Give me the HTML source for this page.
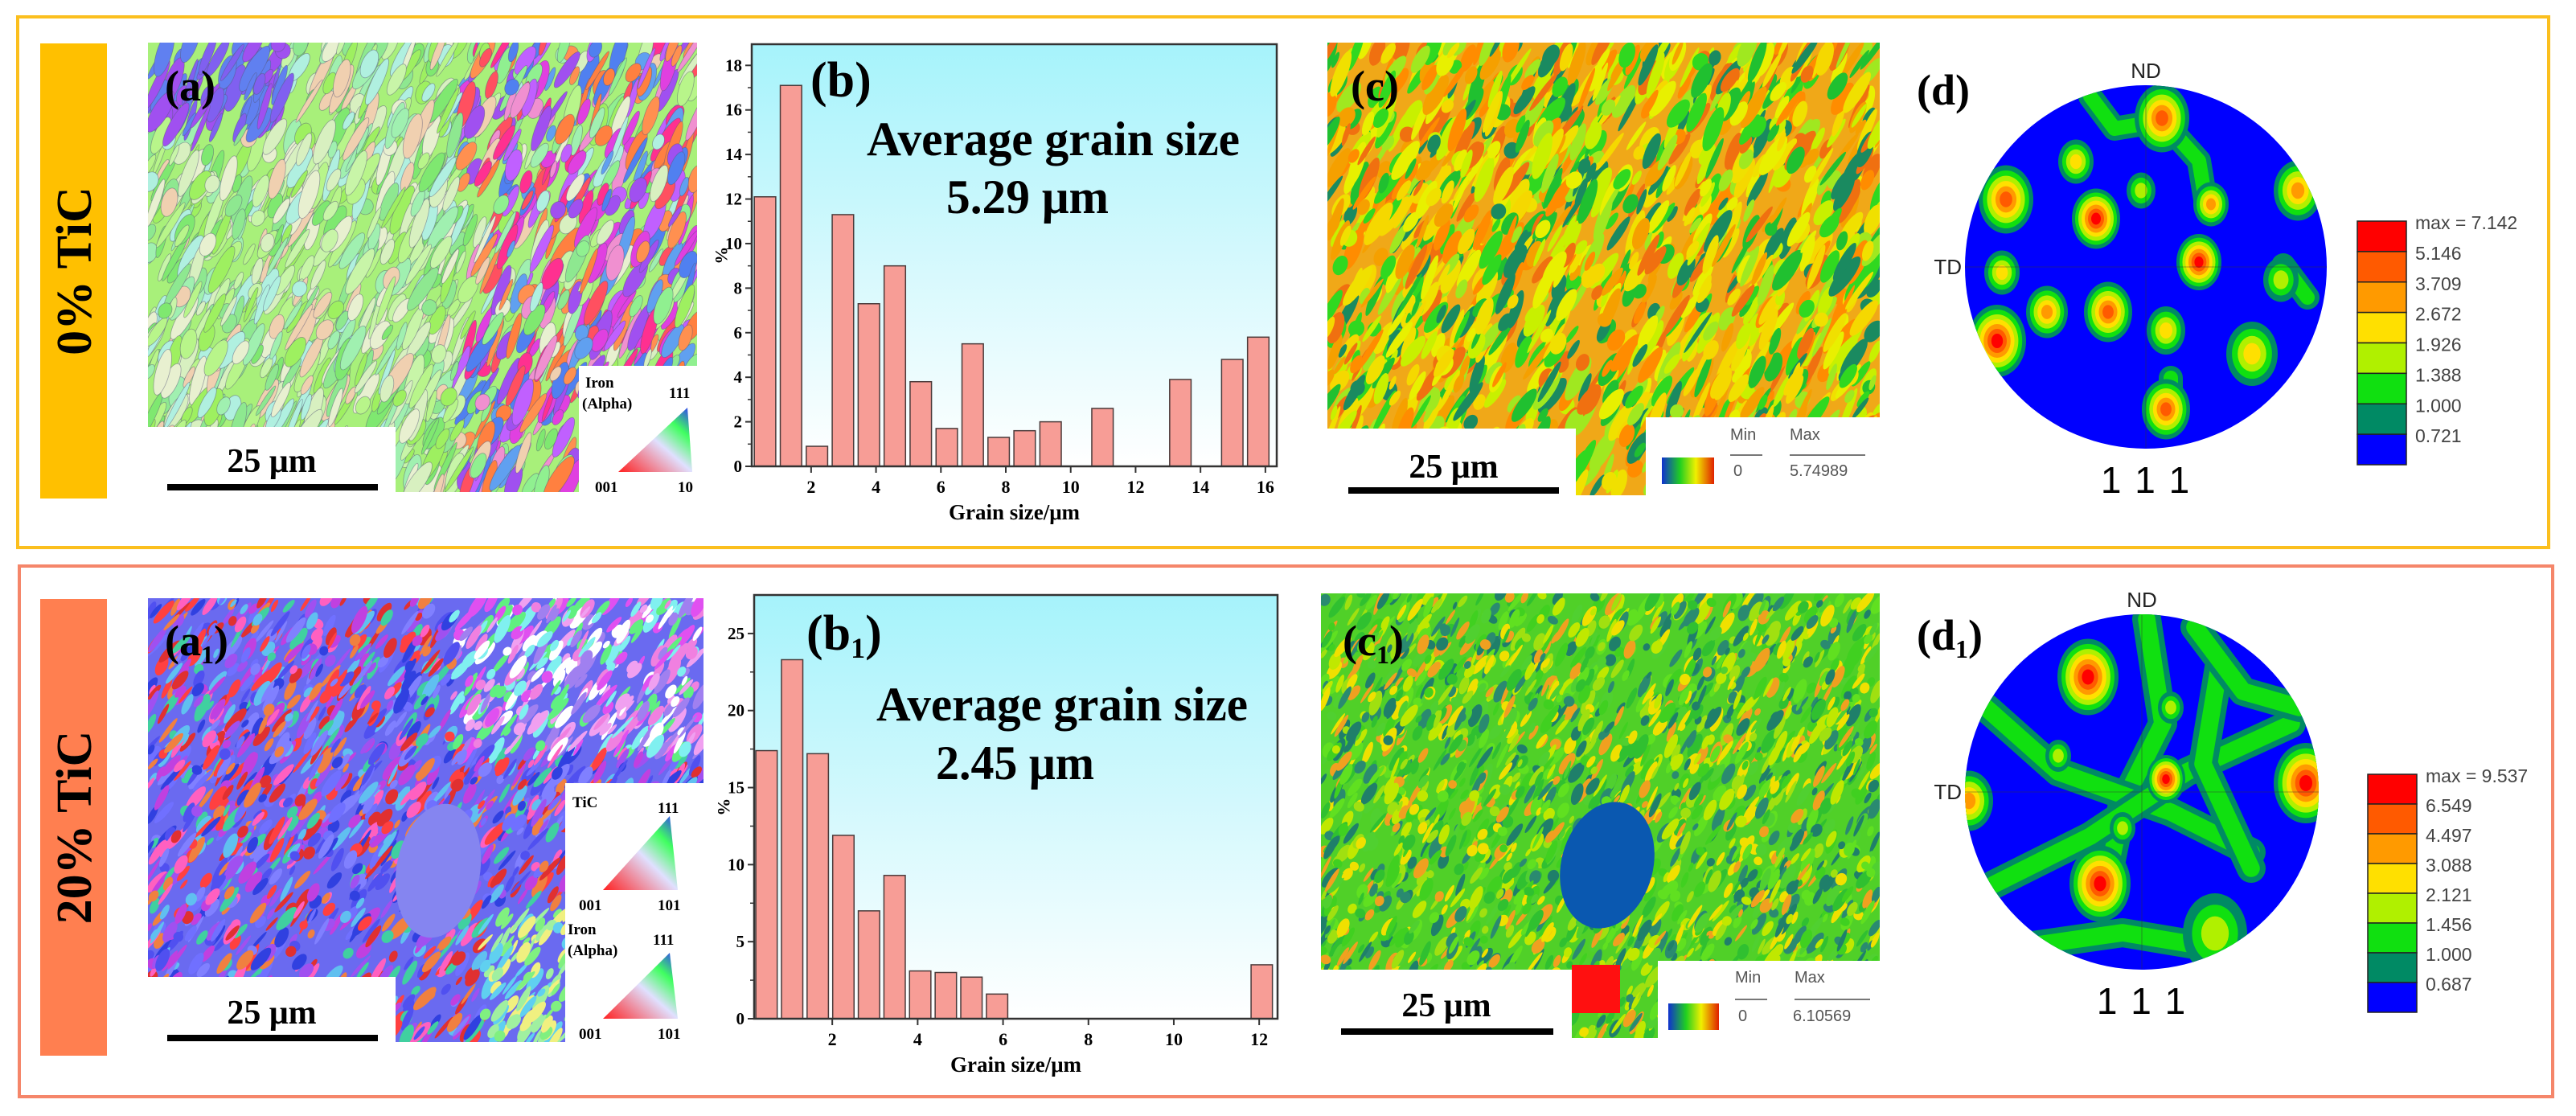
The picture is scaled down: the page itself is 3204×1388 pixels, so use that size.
<!DOCTYPE html>
<html><head><meta charset="utf-8">
<style>
html,body{margin:0;padding:0;background:#fff;}
svg{display:block;}
.serif{font-family:"Liberation Serif",serif;font-weight:bold;}
.sans{font-family:"Liberation Sans",sans-serif;}
</style></head>
<body>
<svg id="fig" width="3204" height="1388" viewBox="0 0 3204 1388" xmlns="http://www.w3.org/2000/svg">
<defs>
  <linearGradient id="cyanbg" x1="0" y1="0" x2="0" y2="1">
    <stop offset="0" stop-color="#a6f3fb"/><stop offset="0.55" stop-color="#d8f9fd"/><stop offset="1" stop-color="#ffffff"/>
  </linearGradient>
  <linearGradient id="kam" x1="0" y1="0" x2="1" y2="0">
    <stop offset="0" stop-color="#1030d0"/><stop offset="0.35" stop-color="#20d020"/><stop offset="0.65" stop-color="#f0f000"/><stop offset="1" stop-color="#e02000"/>
  </linearGradient>
  <linearGradient id="ipf" x1="0" y1="1" x2="1" y2="0">
    <stop offset="0" stop-color="#ff2020"/><stop offset="0.5" stop-color="#e0e0ff"/><stop offset="0.75" stop-color="#40ff60"/><stop offset="1" stop-color="#3030ff"/>
  </linearGradient>
  <clipPath id="clipA"><rect x="184" y="53" width="683" height="559"/></clipPath>
  <clipPath id="clipA1"><rect x="184" y="744" width="691" height="552"/></clipPath>
  <clipPath id="clipC"><rect x="1651" y="53" width="687" height="563"/></clipPath>
  <clipPath id="clipC1"><rect x="1643" y="738" width="695" height="553"/></clipPath>
  <clipPath id="clipD"><ellipse cx="2669" cy="332" rx="225" ry="226"/></clipPath>
  <clipPath id="clipD1"><ellipse cx="2664" cy="985" rx="220" ry="221"/></clipPath>
</defs>

<rect x="22" y="21" width="3148" height="660" fill="none" stroke="#fbbf1e" stroke-width="4"/>
<rect x="24" y="704" width="3151" height="660" fill="none" stroke="#f5866a" stroke-width="4"/>
<rect x="50" y="54" width="83" height="566" fill="#ffc000"/>
<text class="serif" font-size="62" text-anchor="middle" transform="translate(113,337) rotate(-90)">0% TiC</text>
<rect x="50" y="745" width="83" height="568" fill="#ff7f50"/>
<text class="serif" font-size="62" text-anchor="middle" transform="translate(113,1029) rotate(-90)">20% TiC</text>

<g id="mapA" clip-path="url(#clipA)"></g>
<g id="mapA1" clip-path="url(#clipA1)"></g>
<g id="mapC" clip-path="url(#clipC)"></g>
<g id="mapC1" clip-path="url(#clipC1)"></g>

<g>
  <text class="serif" x="205" y="125" font-size="54">(a)</text>
  <rect x="184" y="531" width="308" height="81" fill="#fff"/>
  <text class="serif" x="338" y="587" font-size="42" text-anchor="middle">25 μm</text>
  <rect x="208" y="602" width="262" height="8" fill="#000"/>
  <rect x="720" y="455" width="147" height="157" fill="#fff"/>
  <text class="serif" x="728" y="482" font-size="19">Iron</text>
  <text class="serif" x="724" y="508" font-size="19">(Alpha)</text>
  <text class="serif" x="832" y="495" font-size="19">111</text>
  <polygon points="769,587 861,587 855,507" fill="url(#ipf)"/>
  <text class="serif" x="740" y="612" font-size="19">001</text>
  <text class="serif" x="843" y="612" font-size="19">10</text>
</g>
<g>
  <text class="serif" x="205" y="815" font-size="54">(a<tspan font-size="32" dy="10">1</tspan><tspan dy="-10">)</tspan></text>
  <rect x="184" y="1215" width="308" height="81" fill="#fff"/>
  <text class="serif" x="338" y="1273" font-size="42" text-anchor="middle">25 μm</text>
  <rect x="208" y="1287" width="262" height="8" fill="#000"/>
  <rect x="703" y="974" width="172" height="322" fill="#fff"/>
  <text class="serif" x="712" y="1004" font-size="19">TiC</text>
  <text class="serif" x="818" y="1011" font-size="19">111</text>
  <polygon points="750,1107 843,1107 833,1015" fill="url(#ipf)"/>
  <text class="serif" x="720" y="1132" font-size="19">001</text>
  <text class="serif" x="818" y="1132" font-size="19">101</text>
  <text class="serif" x="706" y="1162" font-size="19">Iron</text>
  <text class="serif" x="706" y="1188" font-size="19">(Alpha)</text>
  <text class="serif" x="812" y="1175" font-size="19">111</text>
  <polygon points="750,1267 843,1267 833,1185" fill="url(#ipf)"/>
  <text class="serif" x="720" y="1292" font-size="19">001</text>
  <text class="serif" x="818" y="1292" font-size="19">101</text>
</g>
<g>
  <text class="serif" x="1680" y="125" font-size="54">(c)</text>
  <rect x="1651" y="533" width="309" height="83" fill="#fff"/>
  <text class="serif" x="1808" y="594" font-size="42" text-anchor="middle">25 μm</text>
  <rect x="1677" y="606" width="262" height="8" fill="#000"/>
  <rect x="2047" y="519" width="291" height="97" fill="#fff"/>
  <rect x="2067" y="569" width="65" height="33" fill="url(#kam)"/>
  <text class="sans" x="2152" y="547" font-size="20" fill="#555">Min</text>
  <line x1="2152" y1="566" x2="2192" y2="566" stroke="#777" stroke-width="2"/>
  <text class="sans" x="2156" y="592" font-size="20" fill="#555">0</text>
  <text class="sans" x="2226" y="547" font-size="20" fill="#555">Max</text>
  <line x1="2226" y1="566" x2="2320" y2="566" stroke="#777" stroke-width="2"/>
  <text class="sans" x="2226" y="592" font-size="20" fill="#555">5.74989</text>
</g>
<g>
  <text class="serif" x="1670" y="815" font-size="54">(c<tspan font-size="32" dy="10">1</tspan><tspan dy="-10">)</tspan></text>
  <rect x="1643" y="1206" width="312" height="85" fill="#fff"/>
  <text class="serif" x="1799" y="1264" font-size="42" text-anchor="middle">25 μm</text>
  <rect x="1668" y="1279" width="264" height="8" fill="#000"/>
  <rect x="2062" y="1195" width="276" height="96" fill="#fff"/>
  <rect x="2075" y="1248" width="63" height="33" fill="url(#kam)"/>
  <text class="sans" x="2158" y="1222" font-size="20" fill="#555">Min</text>
  <line x1="2158" y1="1243" x2="2198" y2="1243" stroke="#777" stroke-width="2"/>
  <text class="sans" x="2162" y="1270" font-size="20" fill="#555">0</text>
  <text class="sans" x="2232" y="1222" font-size="20" fill="#555">Max</text>
  <line x1="2232" y1="1243" x2="2326" y2="1243" stroke="#777" stroke-width="2"/>
  <text class="sans" x="2230" y="1270" font-size="20" fill="#555">6.10569</text>
</g>

<g id="chartB"></g>
<g id="chartB1"></g>

<g id="poleD"></g>
<g id="poleD1"></g>
</svg>

<script>
// ---------- histogram data ----------
const binsB = [0.58,1.38,2.18,2.98,3.78,4.58,5.38,6.18,6.98,7.78,8.58,9.38,10.18,10.98,11.78,12.58,13.38,14.18,14.98,15.78];
const valuesB = [12.1,17.1,0.9,11.3,7.3,9.0,3.8,1.7,5.5,1.3,1.6,2.0,0,2.6,0,0,3.9,0,4.8,5.8];
const xTicksB = [2,4,6,8,10,12,14,16];
const yTicksB = [0,2,4,6,8,10,12,14,16,18];
const binsB1 = [0.46,1.06,1.66,2.26,2.86,3.46,4.06,4.66,5.26,5.86,6.46,7.06,7.66,8.26,8.86,9.46,10.06,10.66,11.26,12.06];
const valuesB1 = [17.4,23.3,17.2,11.9,7.0,9.3,3.1,3.0,2.7,1.6,0,0,0,0,0,0,0,0,0,3.5];
const xTicksB1 = [2,4,6,8,10,12];
const yTicksB1 = [0,5,10,15,20,25];

const NS = "http://www.w3.org/2000/svg";
function mk(parent, tag, attrs, text){
  const e = document.createElementNS(NS, tag);
  for (const k in attrs) e.setAttribute(k, attrs[k]);
  if (text !== undefined) e.textContent = text;
  parent.appendChild(e);
  return e;
}

function drawHist(g, cfg){
  const sx = v => cfg.left + (v - cfg.xmin) / (cfg.xmax - cfg.xmin) * (cfg.right - cfg.left);
  const sy = v => cfg.bottom - (v - cfg.ymin) / (cfg.ymax - cfg.ymin) * (cfg.bottom - cfg.top);
  const bg = mk(g, 'rect', {x:cfg.left, y:cfg.top, width:cfg.right-cfg.left, height:cfg.bottom-cfg.top, fill:'url(#cyanbg)'});
  
  
  cfg.bins.forEach((c, i) => {
    const v = cfg.values[i];
    if (v <= 0) return;
    const x0 = sx(c - cfg.bw/2), x1 = sx(c + cfg.bw/2);
    const r = mk(g, 'rect', {x:x0, y:sy(v), width:x1-x0, height:sy(0)-sy(v), fill:'#f79d96', stroke:'#4a3a3a', 'stroke-width':1.5});
    
    
  });
  mk(g, 'rect', {x:cfg.left, y:cfg.top, width:cfg.right-cfg.left, height:cfg.bottom-cfg.top, fill:'none', stroke:'#333', 'stroke-width':2.5});
  cfg.yTicks.forEach(t => {
    mk(g, 'line', {x1:cfg.left-8, x2:cfg.left, y1:sy(t), y2:sy(t), stroke:'#333', 'stroke-width':2});
    const tl = mk(g, 'text', {x:cfg.left-12, y:sy(t)+7, 'font-size':21, 'text-anchor':'end', class:'serif'}, String(t));
    
    
  });
  for (let k = 0; k < cfg.yTicks.length - 1; k++){
    const m = (cfg.yTicks[k] + cfg.yTicks[k+1]) / 2;
    mk(g, 'line', {x1:cfg.left-5, x2:cfg.left, y1:sy(m), y2:sy(m), stroke:'#333', 'stroke-width':1.5});
  }
  cfg.xTicks.forEach(t => {
    mk(g, 'line', {x1:sx(t), x2:sx(t), y1:cfg.bottom, y2:cfg.bottom+8, stroke:'#333', 'stroke-width':2});
    const tl = mk(g, 'text', {x:sx(t), y:cfg.bottom+33, 'font-size':22, 'text-anchor':'middle', class:'serif'}, String(t));
    
    
  });
  const xl = mk(g, 'text', {x:(cfg.left+cfg.right)/2, y:cfg.bottom+66, 'font-size':27, 'text-anchor':'middle', class:'serif'}, 'Grain size/μm');
  
  
  const yl = mk(g, 'text', {x:0, y:0, 'font-size':22, 'text-anchor':'middle', class:'serif', transform:'translate('+(cfg.left-45)+','+((cfg.top+cfg.bottom)/2)+') rotate(90)'}, '%');
  
  
  const pl = mk(g, 'text', {x:cfg.lab[0], y:cfg.lab[1], 'font-size':62, class:'serif'}, cfg.label);
  if (cfg.sub){ mk(pl, 'tspan', {'font-size':36, dy:10}, cfg.sub); mk(pl, 'tspan', {dy:-10}, ')'); }
  
  
  const a1 = mk(g, 'text', {x:cfg.avg[0], y:cfg.avg[1], 'font-size':60, class:'serif', textLength:cfg.avg[2], lengthAdjust:'spacingAndGlyphs'}, 'Average grain size');
  
  
  const a2 = mk(g, 'text', {x:cfg.val[0], y:cfg.val[1], 'font-size':60, class:'serif', textLength:cfg.val[2], lengthAdjust:'spacingAndGlyphs'}, cfg.avgText);
  
  
}

drawHist(document.getElementById('chartB'), {left:935, right:1588, top:55, bottom:580, xmin:0.17, xmax:16.35, ymin:0, ymax:18.95,
  bins:binsB, values:valuesB, bw:0.66, xTicks:xTicksB, yTicks:yTicksB, label:'(b)', lab:[1008,120],
  avg:[1078,193,464], val:[1177,265,202], avgText:'5.29 μm'});
drawHist(document.getElementById('chartB1'), {left:938, right:1589, top:740, bottom:1267, xmin:0.17, xmax:12.43, ymin:0, ymax:27.5,
  bins:binsB1, values:valuesB1, bw:0.5, xTicks:xTicksB1, yTicks:yTicksB1, label:'(b', sub:'1', lab:[1003,808],
  avg:[1090,896,462], val:[1164,969,197], avgText:'2.45 μm'});

// ---------- textured maps (seeded pseudo-random texture) ----------
let seed = 12345;
function rnd(){ seed = (seed * 1103515245 + 12345) & 0x7fffffff; return seed / 0x7fffffff; }
function texture(g, x, y, w, h, base, n, pick, ang, sz, stroke){
  mk(g, 'rect', {x:x, y:y, width:w, height:h, fill:base});
  for (let i = 0; i < n; i++){
    const fx = rnd(), fy = rnd();
    const cx = x + fx*w, cy = y + fy*h;
    const col = pick(fx, fy);
    const rx = sz[0]*(0.4+rnd()), ry = sz[1]*(0.4+rnd());
    const a = { cx:cx, cy:cy, rx:rx, ry:ry, fill:col, transform:'rotate('+(ang+(rnd()-0.5)*20)+','+cx+','+cy+')' };
    if (stroke) { a.stroke = stroke; a['stroke-width'] = 0.8; a['stroke-opacity'] = 0.5; }
    mk(g, 'ellipse', a);
  }
}
const greens = ['#9ef060','#b8f58a','#7fe870','#c8f5a8','#a0f0b0','#d8f0c0','#8ee890','#e8f0d0','#f0d0b0','#b0f0e0'];
const mixed = ['#e040e0','#ff3090','#a050f0','#ff8040','#60a0f0','#c060ff','#ff5060','#f090d0','#90f090','#ff9050','#5080f0'];
const gA = document.getElementById('mapA');
texture(gA, 184,53,683,559, '#a8f07a', 1500, (fx,fy)=>{
  if (fx < 0.25 && fy < 0.2) return ['#8060f0','#a050f0','#6080f0'][Math.floor(rnd()*3)];
  const p = fx < 0.57 ? greens : (rnd()<0.2?greens:mixed); return p[Math.floor(rnd()*p.length)];
}, -65, [24,7], '#557');
const blues = ['#5050f0','#7070ff','#3040e0','#ff4040','#e03030','#a050f0','#8080ff','#ff60c0','#60c0f0','#40d0a0','#f08040','#c040e0'];
texture(document.getElementById('mapA1'), 184,744,691,552, '#6a6af0', 2200, (fx,fy)=>{
  const p = (fx>0.55 && fy<0.35) ? ['#f080e0','#e050f0','#80f0f0','#60f080','#f0a0f0','#ffffff','#a080f0'] : ((fx>0.6 && fy>0.7) ? ['#80f080','#a0f0a0','#60d0f0','#f0f080'] : blues);
  return p[Math.floor(rnd()*p.length)];
}, -55, [14,5], null);
mk(document.getElementById('mapA1'), 'ellipse', {cx:545, cy:1083, rx:52, ry:84, fill:'#8585f0', transform:'rotate(10,545,1083)'});

const kamC = ['#f5a000','#ff8c00','#f0e000','#c8f000','#30d820','#f07010','#f5d800','#20c030','#e8f000','#a0e820'];
texture(document.getElementById('mapC'), 1651,53,687,563, '#f0a818', 1700, (fx,fy)=>{
  if (rnd()<0.1) return '#1a8a60';
  return kamC[Math.floor(rnd()*kamC.length)];
}, -62, [22,7], null);
const kamC1 = ['#40d020','#60e020','#30c030','#c0e800','#f0e000','#2a8a70','#1f7f6a','#50d030','#a0e010','#f0a020'];
texture(document.getElementById('mapC1'), 1643,738,695,553, '#50d028', 2400, (fx,fy)=> kamC1[Math.floor(rnd()*kamC1.length)], -60, [12,5], null);
const gC1 = document.getElementById('mapC1');
mk(gC1, 'ellipse', {cx:1999, cy:1076, rx:57, ry:80, fill:'#0a58b0', transform:'rotate(15,1999,1076)'});
mk(gC1, 'rect', {x:1955, y:1200, width:60, height:60, fill:'#ff1010'});

// ---------- pole figures ----------
const levelColors = ['#0000ff','#008a64','#10e010','#b0f000','#ffe000','#ff9a00','#ff5a00','#ff0000'];
function pole(g, cfg){
  const clip = mk(g, 'g', {'clip-path':cfg.clip});
  mk(clip, 'rect', {x:cfg.cx-cfg.r-5, y:cfg.cy-cfg.r-5, width:2*cfg.r+10, height:2*cfg.r+10, fill:'#0000ff'});
  cfg.bands.forEach(b => {
    mk(clip, 'path', {d:b, fill:'none', stroke:'#008a64', 'stroke-width':cfg.bw, 'stroke-linecap':'round', 'stroke-linejoin':'round'});
    mk(clip, 'path', {d:b, fill:'none', stroke:'#10e010', 'stroke-width':cfg.bw*0.6, 'stroke-linecap':'round', 'stroke-linejoin':'round'});
  });
  cfg.peaks.forEach(p => {
    const [x,y,s,lvl] = p;
    for (let l = 1; l <= lvl; l++){
      const k = 1 - (l-1)/(lvl+0.5);
      mk(clip, 'ellipse', {cx:x, cy:y, rx:s*k, ry:s*1.25*k, fill:levelColors[l]});
    }
  });
  mk(g, 'line', {x1:cfg.cx, x2:cfg.cx, y1:cfg.cy-cfg.r, y2:cfg.cy+cfg.r, stroke:'#333', 'stroke-width':0.8, 'stroke-opacity':0.6});
  mk(g, 'line', {x1:cfg.cx-cfg.r, x2:cfg.cx+cfg.r, y1:cfg.cy, y2:cfg.cy, stroke:'#333', 'stroke-width':0.8, 'stroke-opacity':0.6});
  mk(g, 'text', {x:cfg.cx, y:cfg.cy-cfg.r-10, 'font-size':26, 'text-anchor':'middle', class:'sans', fill:'#222'}, 'ND');
  mk(g, 'text', {x:cfg.cx-cfg.r-4, y:cfg.cy+9, 'font-size':26, 'text-anchor':'end', class:'sans', fill:'#222'}, 'TD');
  const t = mk(g, 'text', {x:cfg.cx, y:cfg.cy+cfg.r+56, 'font-size':46, 'text-anchor':'middle', class:'sans', 'letter-spacing':'2'}, '1 1 1');
  
  
  const pl = mk(g, 'text', {x:cfg.lab[0], y:cfg.lab[1], 'font-size':54, class:'serif'}, cfg.label);
  if (cfg.sub){ mk(pl, 'tspan', {'font-size':32, dy:10}, cfg.sub); mk(pl, 'tspan', {dy:-10}, ')'); }
  const h = (cfg.cbB - cfg.cbT) / 8;
  for (let i = 0; i < 8; i++){
    const r = mk(g, 'rect', {x:cfg.cbX, y:cfg.cbT + i*h, width:61, height:h, fill:levelColors[7-i], stroke:'#222', 'stroke-width':1.5});
    
    
  }
  cfg.levels.forEach((v, i) => {
    const lt = mk(g, 'text', {x:cfg.cbX+72, y:cfg.cbT + i*h + 10, 'font-size':23, class:'sans', fill:'#444'}, (i===0?'max = ':'') + v);
    
    
  });
}
const levelsD = ['7.142','5.146','3.709','2.672','1.926','1.388','1.000','0.721'];
const levelsD1 = ['9.537','6.549','4.497','3.088','2.121','1.456','1.000','0.687'];
pole(document.getElementById('poleD'), {clip:'url(#clipD)', cx:2669, cy:332, r:225, label:'(d)', lab:[2384,130], bw:30,
  cbX:2932, cbT:275, cbB:578, levels:levelsD,
  bands:['M2600,120 L2630,160 L2690,150 L2735,200 L2745,260', 'M2700,470 L2700,520', 'M2840,330 L2870,370'],
  peaks:[[2689,147,34,6],[2582,201,22,4],[2495,248,34,6],[2607,272,30,7],[2663,237,18,3],[2750,254,22,5],[2735,326,28,7],[2858,237,30,5],[2490,339,22,4],[2546,388,26,5],[2622,388,30,6],[2484,424,36,7],[2694,411,24,4],[2801,440,32,4],[2694,509,30,6],[2837,348,22,3]]});
pole(document.getElementById('poleD1'), {clip:'url(#clipD1)', cx:2664, cy:985, r:220, label:'(d', sub:'1', lab:[2384,808], bw:36,
  cbX:2945, cbT:963, cbB:1259, levels:levelsD1,
  bands:['M2670,770 L2690,900 L2640,1000 L2620,1100','M2470,880 L2560,960 L2700,1010 L2800,1060','M2480,1100 L2600,1040 L2720,960 L2850,900','M2760,830 L2740,950 L2800,1080','M2500,1180 L2640,1160 L2760,1180','M2730,780 L2790,860 L2860,880'],
  peaks:[[2597,842,38,7],[2694,969,24,7],[2868,974,40,7],[2449,996,30,5],[2612,1099,38,7],[2755,1161,40,3],[2560,940,16,3],[2640,1030,16,3],[2700,880,16,3]]});
</script>
</body></html>
